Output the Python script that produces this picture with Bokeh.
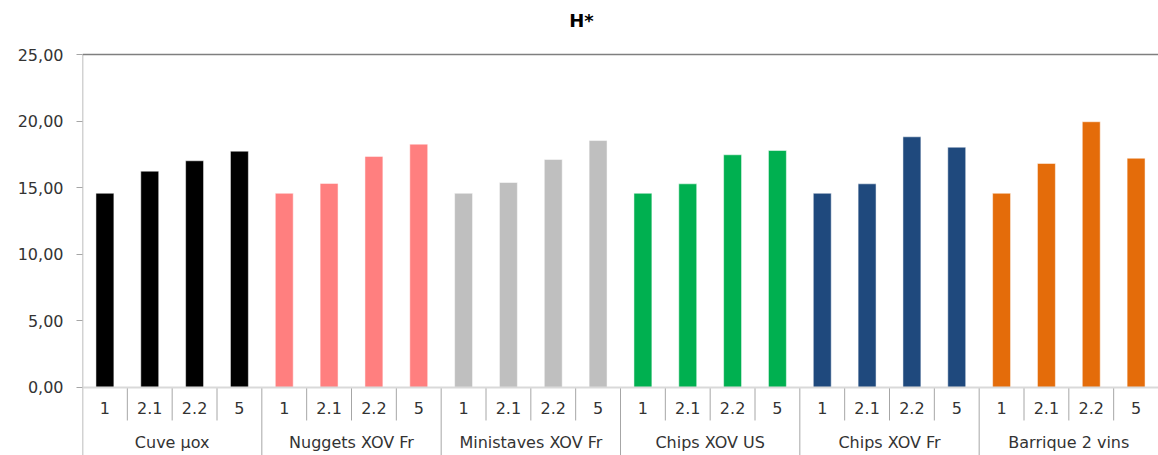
from bokeh.plotting import figure
from bokeh.models import Range1d, FixedTicker, CustomJSTickFormatter, Span, ColumnDataSource
from bokeh.core.properties import value
from bokeh.embed import file_html
from bokeh.resources import INLINE

title_text = "H*"
groups = ["Cuve µox", "Nuggets XOV Fr", "Ministaves XOV Fr", "Chips XOV US", "Chips XOV Fr", "Barrique 2 vins"]
subs = ["1", "2.1", "2.2", "5"]
colors = ["#000000", "#FF7F7F", "#BFBFBF", "#00B050", "#1F497D", "#E46C0A"]
cuve = [14.58, 16.24, 17.02, 17.74]
nuggets = [14.58, 15.32, 17.35, 18.27]
ministaves = [14.58, 15.39, 17.12, 18.54]
chips_us = [14.58, 15.29, 17.47, 17.79]
chips_fr = [14.58, 15.29, 18.82, 18.04]
barrique = [14.58, 16.82, 19.95, 17.21]
series = [cuve, nuggets, ministaves, chips_us, chips_fr, barrique]
y_ticks = [0, 5, 10, 15, 20, 25]

FONT = "DejaVu Sans"
n = len(subs)
xs, tops, cols, sublab_x, sublab = [], [], [], [], []
for gi, vals in enumerate(series):
    for si, v in enumerate(vals):
        xs.append(gi * n + si + 0.5)
        tops.append(v)
        cols.append(colors[gi])
        sublab_x.append(gi * n + si + 0.5)
        sublab.append(subs[si])

total = len(groups) * n
y_top = 25 + 54 * (30.11 / 401)
p = figure(width=1158, height=455, x_range=Range1d(0, total), y_range=Range1d(-5.11, y_top),
           output_backend="svg", toolbar_location=None, x_axis_location=None,
           min_border_left=82, min_border_right=0, min_border_top=0, min_border_bottom=0)
p.outline_line_color = None
p.xgrid.visible = False
p.ygrid.visible = False

ax = p.yaxis[0]
ax.ticker = FixedTicker(ticks=y_ticks)
ax.formatter = CustomJSTickFormatter(code="return tick.toFixed(2).replace('.', ',');")
ax.axis_line_color = None
ax.major_tick_line_color = "#A6A6A6"
ax.major_tick_out = 6
ax.major_tick_in = 0
ax.minor_tick_line_color = None
ax.major_label_text_font = FONT
ax.major_label_text_font_size = "16px"
ax.major_label_text_color = "#333333"
ax.major_label_standoff = 13

p.add_layout(Span(location=25, dimension="width", line_color="#7F7F7F", line_width=1.5))
p.add_layout(Span(location=0, dimension="width", line_color="#D9D9D9", line_width=2))

src = ColumnDataSource(dict(x=xs, top=tops, color=cols))
p.vbar(x="x", top="top", bottom=0, width=0.4, fill_color="color", line_color="white",
       line_alpha=0.5, line_width=1, source=src)

# vertical axis line (from 25 down through the category area)
p.segment(x0=[0], y0=[25], x1=[0], y1=[-5.11], line_color="#A6A6A6", line_width=1.5)

# separators
sep_sub_x = [gi * n + si for gi in range(len(groups)) for si in range(1, n)]
p.segment(x0=sep_sub_x, y0=[0] * len(sep_sub_x), x1=sep_sub_x, y1=[-2.48] * len(sep_sub_x),
          line_color="#A6A6A6", line_width=1)
sep_grp_x = [gi * n for gi in range(1, len(groups) + 1)]
p.segment(x0=sep_grp_x, y0=[0] * len(sep_grp_x), x1=sep_grp_x, y1=[-5.11] * len(sep_grp_x),
          line_color="#A6A6A6", line_width=1)

p.text(x=sublab_x, y=[-1.58] * len(sublab), text=sublab, text_align="center", text_baseline="middle",
       text_font=value(FONT), text_font_size="16px", text_color="#333333")
grp_x = [gi * n + n / 2 for gi in range(len(groups))]
p.text(x=grp_x, y=[-4.13] * len(groups), text=groups, text_align="center", text_baseline="middle",
       text_font=value(FONT), text_font_size="16px", text_color="#333333")

# chart title, placed above the 25 line
p.text(x=[11.13], y=[27.55], text=[title_text], text_align="center", text_baseline="middle",
       text_font=value(FONT), text_font_size="18px", text_font_style="bold", text_color="#000000")

open("out.html", "w").write(file_html(p, INLINE))
